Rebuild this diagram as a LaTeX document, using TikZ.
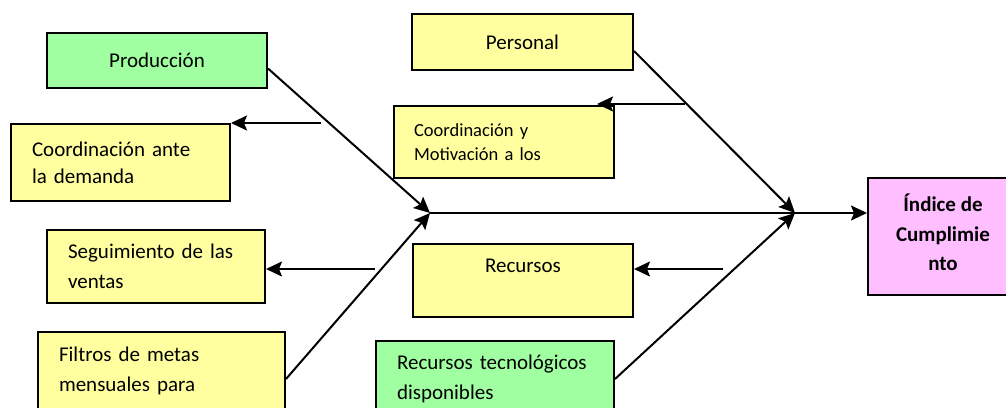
\documentclass[tikz,border=0pt]{standalone}
\usepackage{fontspec}
\setmainfont{Carlito}
\usetikzlibrary{arrows.meta}
\definecolor{amarillo}{RGB}{255,255,160}
\definecolor{verde}{RGB}{160,255,160}
\definecolor{rosa}{RGB}{255,190,255}
\tikzset{
 	causa/.style={draw, line width=2pt, rectangle, anchor=north west, inner sep=0pt, font=\fontsize{21}{30}\selectfont},
 	izq/.style={causa, align=left, inner xsep=21pt, text width=#1},
 	flecha/.style={line width=2pt, -{Stealth[length=16pt,width=15pt,inset=3pt]}}
}
\begin{document}
\begin{tikzpicture}[x=1pt,y=-1pt]
 	\path[use as bounding box, clip] (0,0) rectangle (1006,407);
 	% causas
 	\node[causa, fill=verde, minimum width=220pt, minimum height=55pt] (prod) at (46,32) {Producción};
 	\node[izq=177pt, fill=amarillo, minimum height=77pt, font=\fontsize{21}{27}\selectfont] (coordDem) at (10,123) {Coordinación ante\\la demanda};
 	\node[izq=176pt, fill=amarillo, minimum height=73pt] (seguim) at (46,229) {Seguimiento de las\\ventas};
 	\node[izq=205pt, fill=amarillo, minimum height=78pt] (filtros) at (37,331) {Filtros de metas\\mensuales para};
 	\node[causa, fill=amarillo, minimum width=221pt, minimum height=56pt] (personal) at (411,13) {Personal};
 	\node[izq=180pt, fill=amarillo, minimum height=72pt, inner xsep=20pt, font=\fontsize{18.5}{24}\selectfont] (coordMot) at (393,105) {Coordinación y\\Motivación a los};
 	\node[causa, fill=amarillo, minimum width=220pt, minimum height=73pt, align=center] (recursos) at (412,243) {Recursos\\~};
 	\node[izq=196pt, fill=verde, minimum height=76pt] (recTec) at (375,340) {Recursos tecnológicos\\disponibles};
 	% efecto
 	\node[causa, fill=rosa, minimum width=150pt, minimum height=117pt] (indice) at (867,177) {};
 	\node[align=center, font=\fontsize{21}{29.5}\selectfont\bfseries] (indiceTxt) at ([yshift=4pt]indice.center) {Índice de\\Cumplimie\\nto};
 	% espina
 	\coordinate (cola) at (430,213);
 	\coordinate (cabeza) at (795,213);
 	\coordinate (c1) at (321,123);
 	\coordinate (c2) at (375,269);
 	\coordinate (c3) at (685,104);
 	\coordinate (c3b) at (597,104);
 	\coordinate (c4) at (723,269);
 	\draw[line width=2pt] (cola) -- (cabeza);
 	\path[flecha]
 	([yshift=-8pt]prod.east) edge (cola)
 	([yshift=-8pt]filtros.east) edge (cola)
 	([yshift=-9pt]personal.east) edge (cabeza)
 	(recTec.east) edge (cabeza)
 	(cabeza) edge (cabeza -| indice.west)
 	(c1) edge (coordDem.north east)
 	(c2) edge (c2 -| seguim.east)
 	(c3) edge (c3b)
 	(c4) edge (c4 -| recursos.east);
\end{tikzpicture}
\end{document}
